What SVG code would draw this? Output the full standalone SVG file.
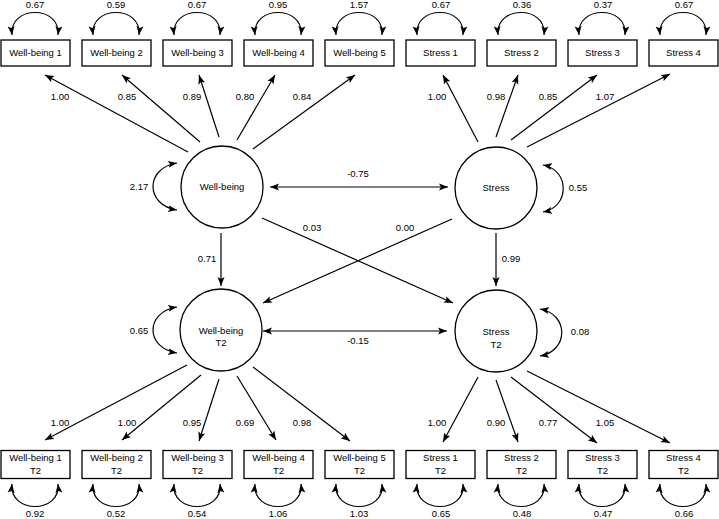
<svg xmlns="http://www.w3.org/2000/svg" width="719" height="519" viewBox="0 0 719 519">
<style>
text{font-family:"Liberation Sans",Arial,sans-serif;font-size:9.5px;fill:#000;text-anchor:middle}
.box{fill:#fff;stroke:#000;stroke-width:1.3}
.lat{fill:#fff;stroke:#000;stroke-width:1.3}
.c{fill:none;stroke:#000;stroke-width:1.2;marker-end:url(#ah)}
.d{fill:none;stroke:#000;stroke-width:1.2;marker-end:url(#ah);marker-start:url(#ah)}
</style>
<defs>
<marker id="ah" markerUnits="userSpaceOnUse" markerWidth="10" markerHeight="8" refX="9" refY="4" orient="auto-start-reverse" viewBox="0 0 10 8">
<path d="M0,0.5 L9,4 L0,7.5 L2,4 Z" fill="#000"/>
</marker>
</defs>
<g id="connectors">
<path class="d" d="M12,35 C9,5 61,5 58,35"/>
<path class="d" d="M93,35 C90,5 142,5 139,35"/>
<path class="d" d="M174,35 C171,5 223,5 220,35"/>
<path class="d" d="M255,35 C252,5 304,5 301,35"/>
<path class="d" d="M336,35 C333,5 385,5 382,35"/>
<path class="d" d="M417,35 C414,5 466,5 463,35"/>
<path class="d" d="M498,35 C495,5 547,5 544,35"/>
<path class="d" d="M579,35 C576,5 628,5 625,35"/>
<path class="d" d="M660,35 C657,5 709,5 706,35"/>
<path class="d" d="M12,484 C9,514 61,514 58,484"/>
<path class="d" d="M93,484 C90,514 142,514 139,484"/>
<path class="d" d="M174,484 C171,514 223,514 220,484"/>
<path class="d" d="M255,484 C252,514 304,514 301,484"/>
<path class="d" d="M336,484 C333,514 385,514 382,484"/>
<path class="d" d="M417,484 C414,514 466,514 463,484"/>
<path class="d" d="M498,484 C495,514 547,514 544,484"/>
<path class="d" d="M579,484 C576,514 628,514 625,484"/>
<path class="d" d="M660,484 C657,514 709,514 706,484"/>
<path class="c" d="M188,152 L45,75"/>
<path class="c" d="M200,142 L122,75"/>
<path class="c" d="M219,137 L199,75"/>
<path class="c" d="M237,140 L275,75"/>
<path class="c" d="M253,149 L355,75"/>
<path class="c" d="M478,142 L443,75"/>
<path class="c" d="M496,137 L518,75"/>
<path class="c" d="M511,140 L597,75"/>
<path class="c" d="M527,147 L670,74"/>
<path class="c" d="M187,365 L45,440"/>
<path class="c" d="M201,375 L122,440"/>
<path class="c" d="M219,379 L199,441"/>
<path class="c" d="M237,376 L276,440"/>
<path class="c" d="M253,367 L350,441"/>
<path class="c" d="M478,377 L443,442"/>
<path class="c" d="M496,380 L518,442"/>
<path class="c" d="M511,377 L597,443"/>
<path class="c" d="M527,371 L670,443"/>
<path class="d" d="M177,163 C145,168 145,205 177,210"/>
<path class="d" d="M543,165 C570,170 570,207 543,212"/>
<path class="d" d="M177,307 C145,312 145,348 177,353"/>
<path class="d" d="M540,309 C569,314 569,351 540,356"/>
<path class="d" d="M270,187 L448,187"/>
<path class="d" d="M263,331 L447,331"/>
<path class="c" d="M221,233 L221,286"/>
<path class="c" d="M496,233 L496,286"/>
<path class="c" d="M262,218 L453,303"/>
<path class="c" d="M452,219 L263,303"/>
<text x="35" y="8">0.67</text><text x="116" y="8">0.59</text><text x="197" y="8">0.67</text><text x="278" y="8">0.95</text><text x="359" y="8">1.57</text>
<text x="441" y="8">0.67</text><text x="522" y="8">0.36</text><text x="603" y="8">0.37</text><text x="684" y="8">0.67</text>
<text x="35" y="517">0.92</text><text x="116" y="517">0.52</text><text x="197" y="517">0.54</text><text x="278" y="517">1.06</text><text x="359" y="517">1.03</text>
<text x="441" y="517">0.65</text><text x="522" y="517">0.48</text><text x="603" y="517">0.47</text><text x="684" y="517">0.66</text>
<text x="60" y="100">1.00</text><text x="127" y="100">0.85</text><text x="192" y="100">0.89</text><text x="245" y="100">0.80</text><text x="302" y="100">0.84</text>
<text x="437" y="100">1.00</text><text x="496" y="100">0.98</text><text x="548" y="100">0.85</text><text x="605" y="100">1.07</text>
<text x="60" y="426">1.00</text><text x="127" y="426">1.00</text><text x="192" y="426">0.95</text><text x="245" y="426">0.69</text><text x="302" y="426">0.98</text>
<text x="437" y="426">1.00</text><text x="496" y="426">0.90</text><text x="548" y="426">0.77</text><text x="605" y="426">1.05</text>
<text x="139" y="190">2.17</text><text x="578" y="191">0.55</text><text x="139" y="334">0.65</text><text x="580" y="335">0.08</text>
<text x="358" y="177">-0.75</text><text x="358" y="344">-0.15</text>
<text x="207" y="262">0.71</text><text x="511" y="262">0.99</text>
<text x="312" y="231">0.03</text><text x="405" y="231">0.00</text>
</g>
<g id="wb1"><rect class="box" x="1" y="40" width="69" height="26"/><text x="35.5" y="56">Well-being 1</text></g>
<g id="wb2"><rect class="box" x="82" y="40" width="69" height="26"/><text x="116.5" y="56">Well-being 2</text></g>
<g id="wb3"><rect class="box" x="163" y="40" width="69" height="26"/><text x="197.5" y="56">Well-being 3</text></g>
<g id="wb4"><rect class="box" x="244" y="40" width="69" height="26"/><text x="278.5" y="56">Well-being 4</text></g>
<g id="wb5"><rect class="box" x="325" y="40" width="69" height="26"/><text x="359.5" y="56">Well-being 5</text></g>
<g id="s1"><rect class="box" x="406" y="40" width="69" height="26"/><text x="440.5" y="56">Stress 1</text></g>
<g id="s2"><rect class="box" x="487" y="40" width="69" height="26"/><text x="521.5" y="56">Stress 2</text></g>
<g id="s3"><rect class="box" x="568" y="40" width="69" height="26"/><text x="602.5" y="56">Stress 3</text></g>
<g id="s4"><rect class="box" x="649" y="40" width="69" height="26"/><text x="683.5" y="56">Stress 4</text></g>
<g id="wb1t2"><rect class="box" x="1" y="450.5" width="69" height="28"/><text x="35.5" y="461">Well-being 1</text><text x="35.5" y="474">T2</text></g>
<g id="wb2t2"><rect class="box" x="82" y="450.5" width="69" height="28"/><text x="116.5" y="461">Well-being 2</text><text x="116.5" y="474">T2</text></g>
<g id="wb3t2"><rect class="box" x="163" y="450.5" width="69" height="28"/><text x="197.5" y="461">Well-being 3</text><text x="197.5" y="474">T2</text></g>
<g id="wb4t2"><rect class="box" x="244" y="450.5" width="69" height="28"/><text x="278.5" y="461">Well-being 4</text><text x="278.5" y="474">T2</text></g>
<g id="wb5t2"><rect class="box" x="325" y="450.5" width="69" height="28"/><text x="359.5" y="461">Well-being 5</text><text x="359.5" y="474">T2</text></g>
<g id="s1t2"><rect class="box" x="406" y="450.5" width="69" height="28"/><text x="440.5" y="461">Stress 1</text><text x="440.5" y="474">T2</text></g>
<g id="s2t2"><rect class="box" x="487" y="450.5" width="69" height="28"/><text x="521.5" y="461">Stress 2</text><text x="521.5" y="474">T2</text></g>
<g id="s3t2"><rect class="box" x="568" y="450.5" width="69" height="28"/><text x="602.5" y="461">Stress 3</text><text x="602.5" y="474">T2</text></g>
<g id="s4t2"><rect class="box" x="649" y="450.5" width="69" height="28"/><text x="683.5" y="461">Stress 4</text><text x="683.5" y="474">T2</text></g>
<g id="wellbeing"><circle class="lat" cx="222" cy="187" r="41"/><text x="222" y="190">Well-being</text></g>
<g id="stress"><circle class="lat" cx="496" cy="188" r="41"/><text x="496" y="191">Stress</text></g>
<g id="wellbeingT2"><circle class="lat" cx="221" cy="330" r="41"/><text x="221" y="334">Well-being</text><text x="221" y="346">T2</text></g>
<g id="stressT2"><circle class="lat" cx="496" cy="331" r="41"/><text x="496" y="335">Stress</text><text x="496" y="348">T2</text></g>
</svg>
